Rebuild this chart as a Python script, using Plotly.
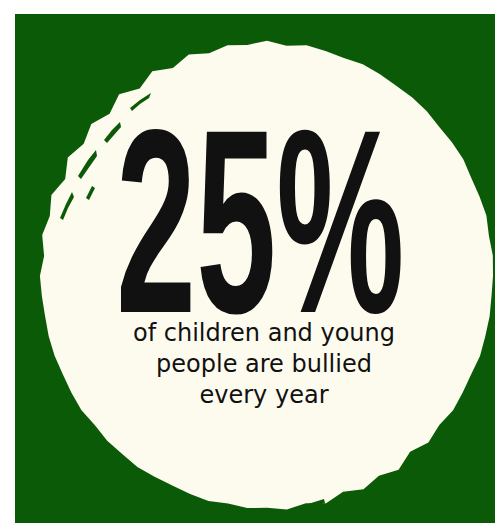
import math
import plotly.graph_objects as go

W, H = 503, 523

# Content
headline = "25%"
subtitle_lines = ["of children and young", "people are bullied", "every year"]

# Colours
green = "#0b5a07"
cream = "#fdfbee"
ink = "#111111"

# Brush-circle edge profile: radius factor every 5 degrees (0 = right, counter-clockwise)
edge = [
    1.000, 1.003, 0.997, 1.005, 1.000, 0.997, 1.003, 1.000, 0.995, 1.000,   # 0-45
    1.000, 0.997, 1.000, 1.003, 0.995, 1.000, 1.006, 0.992, 1.010, 0.995,   # 50-95
    1.006, 0.990, 1.012, 0.985, 1.015, 0.982, 1.018, 0.985, 1.015, 0.990,   # 100-145
    1.018, 0.985, 1.015, 0.995, 1.010, 0.990, 1.005, 1.000, 0.997, 1.000,   # 150-195
    1.000, 0.997, 1.000, 1.003, 0.995, 1.000, 0.997, 1.000, 0.995, 0.992,   # 200-245
    0.995, 1.000, 0.992, 1.000, 0.995, 1.006, 0.990, 1.010, 0.985, 1.010,   # 250-295
    0.990, 1.015, 0.985, 1.010, 0.995, 1.005, 1.000, 0.997, 1.003, 1.000,   # 300-345
    1.000, 0.997,                                                           # 350-355
]

cx, cy, rx, ry = 259, 268, 226, 233

pts = []
for i, f in enumerate(edge):
    t = math.radians(i * 5)
    pts.append((cx + rx * f * math.cos(t), cy - ry * f * math.sin(t)))
path = "M " + " L ".join(f"{x:.1f},{y:.1f}" for x, y in pts) + " Z"

fig = go.Figure()
fig.add_trace(go.Scatter(x=[0, W], y=[0, H], mode="markers", marker=dict(opacity=0),
                         hoverinfo="skip", showlegend=False))

fig.add_shape(type="rect", x0=7, y0=6, x1=W, y1=H, fillcolor=green, line=dict(width=0), layer="below")
fig.add_shape(type="path", path=path, fillcolor=cream, line=dict(width=0), layer="below")

# a few short brush gaps near the ragged edges
streaks = [
    "M 70,168 L 80,152 L 88,142 L 89,148 L 82,158 L 73,171 Z",
    "M 52,210 L 58,196 L 64,184 L 66,189 L 60,200 L 55,212 Z",
    "M 122,100 L 132,92 L 143,85 L 141,90 L 132,96 L 124,103 Z",
    "M 96,132 L 104,122 L 112,114 L 113,119 L 106,127 L 99,135 Z",
    "M 78,190 L 84,178 L 87,180 L 81,192 Z",
    "M 418,468 L 432,455 L 436,458 L 422,471 Z",
    "M 300,496 L 316,491 L 317,495 L 302,500 Z",
]
for s in streaks:
    fig.add_shape(type="path", path=s, fillcolor=green, line=dict(width=0), layer="below")

# Headline (index 0, horizontally condensed in post_script to mimic the tall brush lettering)
fig.add_annotation(x=252, y=213, text=f"<b>{headline}</b>", showarrow=False,
                   font=dict(family="Liberation Sans, Arial, sans-serif", size=262, color=ink),
                   xanchor="center", yanchor="middle")

fig.add_annotation(x=256, y=356, text="<br>".join(subtitle_lines), showarrow=False,
                   font=dict(family="DejaVu Sans, sans-serif", size=24, color=ink),
                   xanchor="center", yanchor="middle", align="center")

fig.update_xaxes(range=[0, W], visible=False, fixedrange=True)
fig.update_yaxes(range=[H, 0], visible=False, fixedrange=True)
fig.update_layout(width=W, height=H, margin=dict(l=0, r=0, t=0, b=0),
                  paper_bgcolor="white", plot_bgcolor="white", showlegend=False)

post = """
var gd = document.getElementById('{plot_id}');
var t = gd.querySelectorAll('text.annotation-text')[0];
if (t) {
  var b = t.getBBox();
  var c = b.x + b.width / 2, m = b.y + b.height / 2;
  t.setAttribute('transform', 'translate(' + c + ',' + m + ') scale(0.55,1) translate(' + (-c) + ',' + (-m) + ')');
}
"""
fig.write_html("out.html", post_script=post, config={"staticPlot": True})
